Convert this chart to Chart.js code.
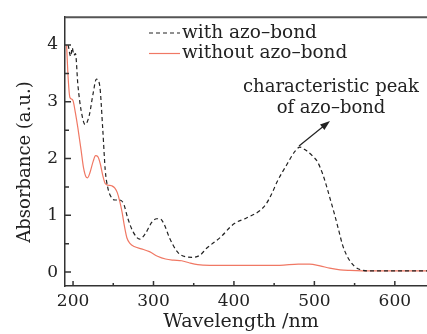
<!DOCTYPE html>
<html>
<head>
<meta charset="utf-8">
<script src="https://cdn.jsdelivr.net/npm/chart.js@4"></script>
<style>
  html, body { margin: 0; padding: 0; background: #fff; }
  #wrap { width: 427px; height: 334px; }
</style>
</head>
<body>
<div id="wrap"><canvas id="c" width="427" height="334"></canvas></div>
<script>
// spectra
const withWl  = [194, 197, 199, 201, 203, 206, 210, 215, 220, 225, 229, 233, 237, 240, 243, 247, 252, 258, 263, 268, 275, 283, 290, 298, 304, 308, 313, 320, 330, 340, 348, 358, 366, 375, 383, 400, 415, 432, 440, 447, 454, 466, 476, 482, 490, 498, 504, 510, 515, 520, 525, 530, 535, 540, 545, 550, 556, 566, 580, 600, 620, 640]
const withAbs = [4.0, 3.8, 3.95, 3.82, 3.85, 3.3, 2.85, 2.6, 2.75, 3.15, 3.4, 3.3, 2.5, 1.8, 1.5, 1.33, 1.27, 1.27, 1.2, 0.95, 0.7, 0.58, 0.68, 0.88, 0.94, 0.94, 0.85, 0.6, 0.35, 0.27, 0.26, 0.3, 0.42, 0.52, 0.61, 0.85, 0.95, 1.08, 1.2, 1.38, 1.6, 1.9, 2.13, 2.2, 2.14, 2.04, 1.94, 1.74, 1.52, 1.27, 1.02, 0.75, 0.48, 0.3, 0.18, 0.1, 0.05, 0.02, 0.02, 0.02, 0.02, 0.02]

const withoutWl  = [192, 194, 196, 198, 200, 203, 206, 210, 213, 216, 218, 221, 225, 228, 231, 234, 237, 240, 244, 248, 252, 255, 258, 261, 264, 267, 271, 276, 285, 295, 305, 315, 325, 335, 345, 355, 370, 400, 430, 457, 480, 494, 507, 519, 532, 544, 573, 600, 640]
const withoutAbs = [4.0, 3.4, 3.08, 3.05, 3.02, 2.8, 2.54, 2.15, 1.84, 1.68, 1.66, 1.75, 1.95, 2.05, 2.03, 1.9, 1.7, 1.56, 1.53, 1.52, 1.48, 1.4, 1.25, 1.05, 0.8, 0.6, 0.5, 0.45, 0.41, 0.36, 0.28, 0.23, 0.21, 0.2, 0.16, 0.13, 0.12, 0.12, 0.12, 0.12, 0.14, 0.14, 0.11, 0.07, 0.04, 0.03, 0.02, 0.02, 0.02]

const xTicks = [200, 300, 400, 500, 600]
const xMinor = [250, 350, 450, 550]
const yTicks = [0, 1, 2, 3, 4]
const yMinor = [0.5, 1.5, 2.5, 3.5]

const seriesNames = ['with azo–bond', 'without azo–bond']
const noteLines = ['characteristic peak', 'of azo–bond']
const xTitle = 'Wavelength /nm'
const yTitle = 'Absorbance (a.u.)'

const serif = '"DejaVu Serif", serif'
const ink = '#222'
const red = 'rgb(240,120,100)'

function pairs(xs, ys) {
    return xs.map((x, i) => ({x: x, y: ys[i]}))
}

// inward ticks, top frame line, axis titles, legend and the arrow note
const decor = {
    id: 'decor',
    afterDraw(chart) {
        const ctx = chart.ctx
        const a = chart.chartArea
        const xs = chart.scales.x
        const ys = chart.scales.y
        ctx.save()
        ctx.strokeStyle = '#333'
        ctx.lineWidth = 1.5
        ctx.beginPath()
        xTicks.forEach(v => { let p = xs.getPixelForValue(v); ctx.moveTo(p, a.bottom); ctx.lineTo(p, a.bottom - 5) })
        xMinor.forEach(v => { let p = xs.getPixelForValue(v); ctx.moveTo(p, a.bottom); ctx.lineTo(p, a.bottom - 3) })
        yTicks.forEach(v => { let p = ys.getPixelForValue(v); ctx.moveTo(a.left, p); ctx.lineTo(a.left + 6, p) })
        yMinor.forEach(v => { let p = ys.getPixelForValue(v); ctx.moveTo(a.left, p); ctx.lineTo(a.left + 4, p) })
        ctx.stroke()

        ctx.strokeStyle = '#555'
        ctx.lineWidth = 2
        ctx.beginPath()
        ctx.moveTo(a.left, a.top)
        ctx.lineTo(a.right, a.top)
        ctx.stroke()

        // axis titles
        ctx.fillStyle = ink
        ctx.textAlign = 'center'
        ctx.textBaseline = 'middle'
        ctx.font = '19px ' + serif
        ctx.fillText(xTitle, 241, 322)
        ctx.save()
        ctx.translate(25, 162)
        ctx.rotate(-Math.PI / 2)
        ctx.font = '18px ' + serif
        ctx.fillText(yTitle, 0, 0)
        ctx.restore()

        // legend
        ctx.font = '18.5px ' + serif
        ctx.textAlign = 'left'
        chart.data.datasets.forEach((ds, i) => {
            let y = 33 + i * 20.5
            ctx.strokeStyle = ds.borderColor
            ctx.lineWidth = 1.2
            ctx.setLineDash(ds.borderDash || [])
            ctx.beginPath()
            ctx.moveTo(149, y)
            ctx.lineTo(180, y)
            ctx.stroke()
            ctx.setLineDash([])
            ctx.fillStyle = ink
            ctx.fillText(seriesNames[i], 182, y)
        })

        // note text
        ctx.textAlign = 'center'
        ctx.font = '18px ' + serif
        ctx.fillText(noteLines[0], 331, 87)
        ctx.fillText(noteLines[1], 331, 108)

        // arrow from the peak
        let x0 = 299, y0 = 146, x1 = 330, y1 = 121
        let ang = Math.atan2(y1 - y0, x1 - x0)
        ctx.strokeStyle = ink
        ctx.lineWidth = 1.2
        ctx.beginPath()
        ctx.moveTo(x0, y0)
        ctx.lineTo(x1 - 6 * Math.cos(ang), y1 - 6 * Math.sin(ang))
        ctx.stroke()
        ctx.fillStyle = ink
        ctx.beginPath()
        ctx.moveTo(x1, y1)
        ctx.lineTo(x1 - 10 * Math.cos(ang) + 3.5 * Math.sin(ang), y1 - 10 * Math.sin(ang) - 3.5 * Math.cos(ang))
        ctx.lineTo(x1 - 10 * Math.cos(ang) - 3.5 * Math.sin(ang), y1 - 10 * Math.sin(ang) + 3.5 * Math.cos(ang))
        ctx.closePath()
        ctx.fill()
        ctx.restore()
    }
}

new Chart(document.getElementById('c'), {
    type: 'line',
    data: {
        datasets: [
            {
                label: seriesNames[0],
                data: pairs(withWl, withAbs),
                borderColor: ink,
                borderWidth: 1.2,
                borderDash: [4, 3],
                pointRadius: 0,
                cubicInterpolationMode: 'monotone'
            },
            {
                label: seriesNames[1],
                data: pairs(withoutWl, withoutAbs),
                borderColor: red,
                borderWidth: 1.2,
                pointRadius: 0,
                cubicInterpolationMode: 'monotone'
            }
        ]
    },
    options: {
        responsive: false,
        animation: false,
        layout: { padding: { top: 15, right: 0, left: 0, bottom: 0 } },
        plugins: { legend: { display: false }, tooltip: { enabled: false } },
        scales: {
            x: {
                type: 'linear',
                min: 190,
                max: 640,
                afterBuildTicks: s => { s.ticks = xTicks.map(v => ({value: v})) },
                afterFit: s => { s.height = 48 },
                grid: { drawOnChartArea: false, drawTicks: false },
                border: { color: '#333', width: 1.5 },
                ticks: { color: ink, padding: 5, font: { family: serif, size: 17 } },
                title: { display: false }
            },
            y: {
                min: -0.245,
                max: 4.49,
                afterBuildTicks: s => { s.ticks = yTicks.map(v => ({value: v})) },
                afterFit: s => { s.width = 65 },
                grid: { drawOnChartArea: false, drawTicks: false },
                border: { color: '#333', width: 1.5 },
                ticks: { color: ink, padding: 7, font: { family: serif, size: 17 } },
                title: { display: false }
            }
        }
    },
    plugins: [decor]
})
</script>
</body>
</html>
